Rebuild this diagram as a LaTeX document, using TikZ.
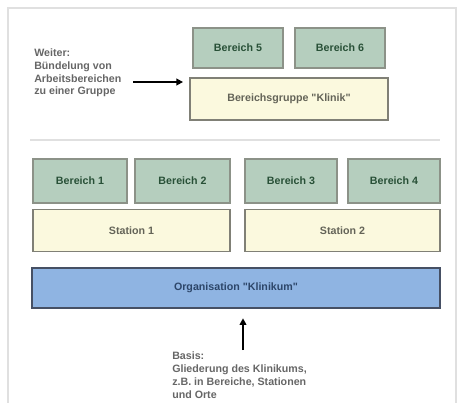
\documentclass[tikz,border=0pt]{standalone}
\usepackage{fontspec}
\setmainfont{Liberation Sans}
\usetikzlibrary{arrows.meta}

\definecolor{bfill}{RGB}{181,206,190}
\definecolor{bline}{RGB}{140,146,136}
\definecolor{btext}{RGB}{40,80,55}
\definecolor{sfill}{RGB}{251,249,222}
\definecolor{sline}{RGB}{128,128,118}
\definecolor{stext}{RGB}{100,100,88}
\definecolor{ofill}{RGB}{143,180,226}
\definecolor{oline}{RGB}{70,80,100}
\definecolor{otext}{RGB}{45,70,105}

\newcommand{\px}[1]{#1*0.75pt}

\tikzset{
  every node/.style={font=\fontsize{8}{9.5}\selectfont\bfseries},
  bbox/.style={draw=bline, fill=bfill, line width=1.4pt, text=btext, minimum height=\px{40}, inner sep=0pt},
  sbox/.style={draw=sline, fill=sfill, line width=1.4pt, text=stext, minimum height=\px{42}, inner sep=0pt},
  obox/.style={draw=oline, fill=ofill, line width=1.4pt, text=otext, minimum height=\px{40}, inner sep=0pt},
  note/.style={align=left, text=black!60, inner sep=0pt},
  arr/.style={line width=1.3pt, -{Triangle[length=5pt,width=5pt]}}
}

\begin{document}
\begin{tikzpicture}[x=0.75pt,y=0.75pt,yscale=-1,xscale=1]
\useasboundingbox (0,0) rectangle (464,403);

% frame and separator
\draw [black!12, line width=1pt] (8,8) rectangle (456,410);
\draw [black!12, line width=1.5pt] (30,140) -- (440,140);

% Bereichsgruppe
\node [bbox, minimum width=\px{90}] (b5) at (238,48) {Bereich 5};
\node [bbox, minimum width=\px{90}] (b6) at (340,48) {Bereich 6};
\node [sbox, minimum width=\px{198}] (grp) at (289,99) {Bereichsgruppe \textquotedbl Klinik\textquotedbl};

% Bereiche und Stationen
\node [bbox, minimum width=\px{94}, minimum height=\px{44}] (b1) at (80,181) {Bereich 1};
\node [bbox, minimum width=\px{95}, minimum height=\px{44}] (b2) at (182.5,181) {Bereich 2};
\node [bbox, minimum width=\px{92}, minimum height=\px{44}] (b3) at (291,181) {Bereich 3};
\node [bbox, minimum width=\px{92}, minimum height=\px{44}] (b4) at (394,181) {Bereich 4};
\node [sbox, minimum width=\px{197}] (st1) at (131.5,230.5) {Station 1};
\node [sbox, minimum width=\px{195}] (st2) at (342.5,230.5) {Station 2};

% Organisation
\node [obox, minimum width=\px{408}] (org) at (236,288) {Organisation \textquotedbl Klinikum\textquotedbl};

% Text Node
\node [note, anchor=north west] (top) at (34,49) {Weiter:\\Bündelung von\\Arbeitsbereichen\\zu einer Gruppe};
% Text Node
\node [note, anchor=north west] (bot) at (172,352) {Basis:\\Gliederung des Klinikums,\\z.B. in Bereiche, Stationen\\und Orte};

\coordinate (a1) at (133,82);
\coordinate (a2) at (243,350);
\draw [arr, shorten >=4.5pt] (a1) -- (a1 -| grp.west);
\draw [arr, shorten >=7pt] (a2) -- (a2 |- org.south);

\end{tikzpicture}
\end{document}
